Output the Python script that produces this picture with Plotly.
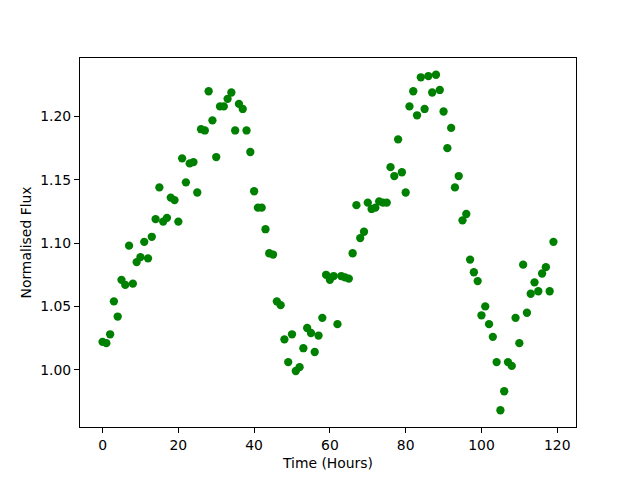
import plotly.graph_objects as go

time_hours = list(range(120))
flux = [
    1.022, 1.021, 1.028, 1.054, 1.042, 1.071, 1.067, 1.098, 1.068, 1.085,
    1.089, 1.101, 1.088, 1.105, 1.119, 1.144, 1.117, 1.120, 1.136, 1.134,
    1.117, 1.167, 1.148, 1.163, 1.164, 1.140, 1.190, 1.189, 1.220, 1.197,
    1.168, 1.208, 1.208, 1.214, 1.219, 1.189, 1.210, 1.206, 1.189, 1.172,
    1.141, 1.128, 1.128, 1.111, 1.092, 1.091, 1.054, 1.051, 1.024, 1.006,
    1.028, 0.999, 1.002, 1.017, 1.033, 1.029, 1.014, 1.027, 1.041, 1.075,
    1.071, 1.074, 1.036, 1.074, 1.073, 1.072, 1.092, 1.130, 1.104, 1.109,
    1.132, 1.127, 1.128, 1.133, 1.132, 1.132, 1.160, 1.153, 1.182, 1.156,
    1.140, 1.208, 1.220, 1.201, 1.231, 1.206, 1.232, 1.219, 1.233, 1.221,
    1.204, 1.175, 1.191, 1.144, 1.153, 1.118, 1.123, 1.087, 1.077, 1.070,
    1.043, 1.050, 1.036, 1.026, 1.006, 0.968, 0.983, 1.006, 1.003, 1.041,
    1.021, 1.083, 1.045, 1.060, 1.069, 1.062, 1.076, 1.081, 1.062, 1.101,
]
x_ticks = [0, 20, 40, 60, 80, 100, 120]
y_ticks = [1.00, 1.05, 1.10, 1.15, 1.20]
y_tick_labels = ["1.00", "1.05", "1.10", "1.15", "1.20"]

fig = go.Figure(go.Scatter(
    x=time_hours, y=flux, mode="markers",
    marker=dict(color="#008000", size=8.3, line=dict(width=0)),
))

xmin, xmax = min(time_hours), max(time_hours)
ymin, ymax = min(flux), max(flux)
xm = (xmax - xmin) * 0.05
ym = (ymax - ymin) * 0.05

axis_common = dict(
    showgrid=False, zeroline=False, showline=True, linecolor="black",
    linewidth=1, mirror=True, ticks="outside", ticklen=5, tickwidth=1,
    tickcolor="black", automargin=False,
    tickfont=dict(family="DejaVu Sans", size=13.9, color="black"),
)

fig.update_layout(
    width=624, height=464, autosize=False,
    margin=dict(l=72, r=56, t=50, b=45, pad=0),
    paper_bgcolor="white", plot_bgcolor="white",
    showlegend=False,
    font=dict(family="DejaVu Sans", size=13.9, color="black"),
    xaxis=dict(range=[xmin - xm, xmax + xm], tickvals=x_ticks,
               title=dict(text="Time (Hours)", standoff=6,
                          font=dict(family="DejaVu Sans", size=13.9)),
               **axis_common),
    yaxis=dict(range=[ymin - ym, ymax + ym], tickvals=y_ticks, ticktext=y_tick_labels,
               title=dict(text="Normalised Flux", standoff=5,
                          font=dict(family="DejaVu Sans", size=13.9)),
               **axis_common),
)

fig.write_html("out.html")
